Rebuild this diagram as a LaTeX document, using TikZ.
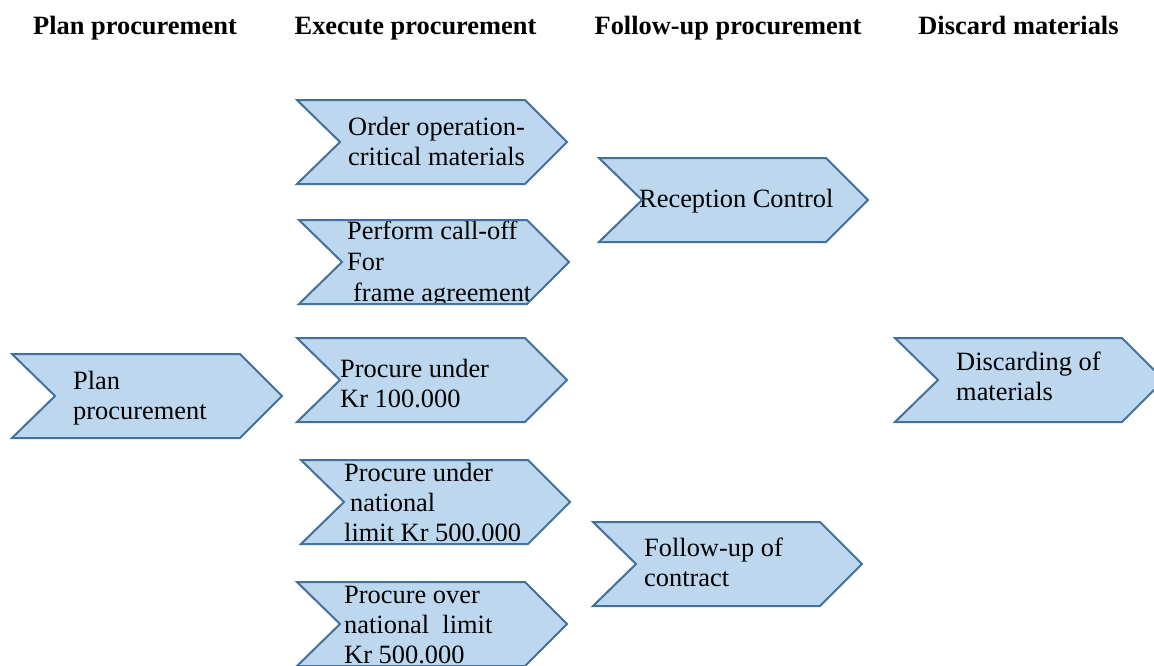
\documentclass[tikz,border=0pt]{standalone}
\usepackage{fontspec}
\setmainfont{Liberation Serif}
\definecolor{chevfill}{HTML}{BDD7EE}
\definecolor{chevline}{HTML}{41719C}
\newcommand\mylines[1]{\begin{tabular}[t]{@{}l@{}}#1\end{tabular}}
\newcommand\chev[7]{%
  \path[chevstyle] (#2,#3) -- ({#4-42},#3) -- (#4,{#3+42}) -- ({#4-42},{#3+84}) -- (#2,{#3+84}) -- ({#2+43},{#3+42}) -- cycle;
  \begin{scope}
    \clip (#2,#3) -- ({#4-42},#3) -- (#4,{#3+42}) -- ({#4-42},{#3+84}) -- (#2,{#3+84}) -- ({#2+43},{#3+42}) -- cycle;
    \node[lbl] (#1) at (#5,#6) {\mylines{#7}};
  \end{scope}
  \draw[chevborder] (#2,#3) -- ({#4-42},#3) -- (#4,{#3+42}) -- ({#4-42},{#3+84}) -- (#2,{#3+84}) -- ({#2+43},{#3+42}) -- cycle;
}
\begin{document}
\begin{tikzpicture}[x=1pt,y=-1pt,
  chevstyle/.style={fill=chevfill},
  chevborder/.style={draw=chevline,line width=2pt,line join=miter},
  lbl/.style={anchor=base west,inner sep=0pt,font=\fontsize{26.4}{30}\selectfont},
  hdr/.style={anchor=base,inner sep=0pt,font=\fontsize{26.4}{30}\selectfont\bfseries}]
\useasboundingbox (0,0) rectangle (1154,665);
\clip (0,0) rectangle (1154,665);
\fill[white] (0,0) rectangle (1154,665);
% headers
\node[hdr] (h1) at (135,34) {Plan procurement};
\node[hdr] (h2) at (415.5,34) {Execute procurement};
\node[hdr] (h3) at (728,34) {Follow-up procurement};
\node[hdr] (h4) at (1018.5,34) {Discard materials};
% chevrons
\chev{plan}{12}{354}{282}{73}{389}{Plan\\procurement}
\chev{order}{297}{100}{567}{348}{135}{Order operation-\\critical materials}
\chev{calloff}{299}{220}{569}{347}{239}{Perform call-off\\[1pt]For\\[1pt]\hspace{6pt}frame agreement}
\chev{p100}{297}{338}{567}{340}{377}{Procure under\\Kr 100.000}
\chev{pnat}{301}{460}{570}{344}{481}{Procure under\\\hspace{6pt}national\\limit Kr 500.000}
\chev{pover}{297}{582}{567}{344}{603}{Procure over\\national\ \ limit\\Kr 500.000}
\chev{recep}{599}{158}{868}{639}{207}{Reception Control}
\chev{follow}{593}{522}{862}{644}{556}{Follow-up of\\contract}
\chev{discard}{895}{338}{1164}{956}{370}{Discarding of\\materials}
\end{tikzpicture}
\end{document}
